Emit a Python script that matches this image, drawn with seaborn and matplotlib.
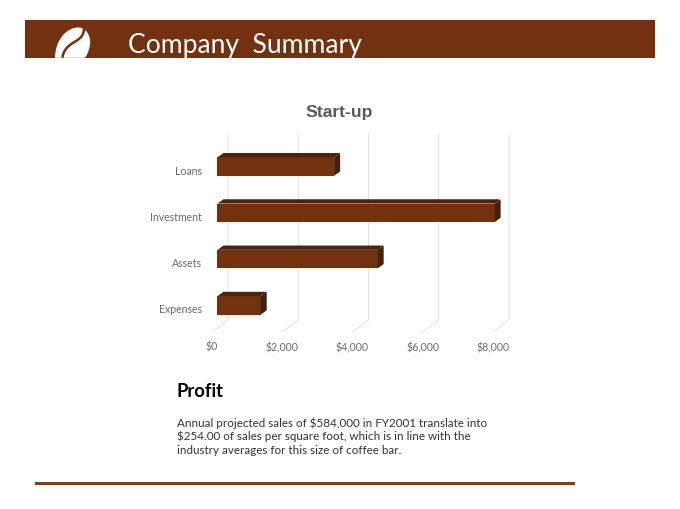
import matplotlib
matplotlib.use("Agg")
import matplotlib.pyplot as plt
import matplotlib.transforms as mtransforms
from matplotlib.patches import Polygon, Rectangle, PathPatch
from matplotlib.path import Path
import pandas as pd
import seaborn as sns

categories = ["Loans", "Investment", "Assets", "Expenses"]
startup_values = [3320, 7890, 4560, 1230]
x_ticks = [0, 2000, 4000, 6000, 8000]
x_tick_labels = ["$0", "$2,000", "$4,000", "$6,000", "$8,000"]

header_text = "Company  Summary"
chart_title = "Start-up"
section_title = "Profit"
body_lines = [
    "Annual projected sales of $584,000 in FY2001 translate into",
    "$254.00 of sales per square foot, which is in line with the",
    "industry averages for this size of coffee bar.",
]

BROWN = "#72320f"
TOP = "#4f2209"
SIDE = "#43200b"
W, H = 680, 510

sns.set_theme(style="white")
plt.rcParams["font.family"] = ["Lato", "DejaVu Sans"]

fig = plt.figure(figsize=(W / 100, H / 100), dpi=100)

# page furniture, in pixel coordinates
page = fig.add_axes([0, 0, 1, 1], zorder=0)
page.set_xlim(0, W)
page.set_ylim(H, 0)
page.axis("off")
page.add_patch(Rectangle((25, 20.8), 630, 38, color=BROWN, lw=0))

# coffee bean logo, cut off by the lower edge of the band
bean = Path(
    [(55, 58.8), (55, 42), (66, 28), (79, 28.5), (88, 29), (91, 40), (90, 46), (89, 52), (87, 56), (85, 58.8), (55, 58.8)],
    [Path.MOVETO] + [Path.CURVE4] * 9 + [Path.CLOSEPOLY],
)
stripe = Path(
    [(84, 29), (84, 40), (76, 41), (70, 46), (66, 49), (63, 53), (62.5, 58.8)],
    [Path.MOVETO] + [Path.CURVE4] * 6,
)
page.add_patch(PathPatch(bean, facecolor="white", lw=0))
page.add_patch(PathPatch(stripe, facecolor="none", edgecolor=BROWN, lw=1.8))

page.text(128, 45, header_text, color="white", fontsize=19.1, va="center", ha="left")
page.text(339.5, 112, chart_title, family="Liberation Sans", weight="bold",
          color="#595959", fontsize=12.6, ha="center", va="center")
page.text(177, 392, section_title, color="black", weight="bold", fontsize=13.2, va="center")
for i, line in enumerate(body_lines):
    page.text(177, 423 + i * 13.7, line, color="#333333", fontsize=8.4, va="center")
page.add_patch(Rectangle((35, 482.6), 540, 3.0, color="#7a3f1c", lw=0))

# chart axes: front plane of the 3D bars
zero_px, per_tick_px = 217.5, 70.25
top_px, bottom_px = 144.4, 329.5
ax = fig.add_axes([zero_px / W, 1 - bottom_px / H, 4 * per_tick_px / W, (bottom_px - top_px) / H],
                  zorder=1)
ax.patch.set_alpha(0)

df = pd.DataFrame({"category": categories, "value": startup_values})
sns.barplot(data=df, x="value", y="category", orient="h", color=BROWN, saturation=1,
            width=0.4, linewidth=0, ax=ax, zorder=3)
ax.set_xlim(0, x_ticks[-1])
ax.set_ylim(3.5, -0.5)
ax.set_xlabel("")
ax.set_ylabel("")
sns.despine(ax=ax, left=True, bottom=True)

ax.set_xticks(x_ticks)
ax.set_xticklabels(x_tick_labels, color="#6b6b6b", fontsize=7.6)
ax.tick_params(axis="x", length=0, pad=9)
ax.tick_params(axis="y", length=0, pad=11, labelsize=7.6, labelcolor="#6b6b6b")
shift_x = mtransforms.ScaledTranslation(-5.5 / 100, 0, fig.dpi_scale_trans)
for label in ax.get_xticklabels():
    label.set_transform(label.get_transform() + shift_x)
shift_y = mtransforms.ScaledTranslation(0, -2.5 / 100, fig.dpi_scale_trans)
for label in ax.get_yticklabels():
    label.set_transform(label.get_transform() + shift_y)

# depth of the 3D look, in data units
px_x = x_ticks[1] / per_tick_px
px_y = 4 / (bottom_px - top_px)
dx, dy = 6 * px_x, 4.3 * px_y

for bar in list(ax.patches):
    x0, x1 = bar.get_x(), bar.get_x() + bar.get_width()
    y0, y1 = bar.get_y(), bar.get_y() + bar.get_height()
    ax.add_patch(Polygon([(x0, y0), (x0 + dx, y0 - dy), (x1 + dx, y0 - dy), (x1, y0)],
                         color=TOP, lw=0, zorder=3))
    ax.add_patch(Polygon([(x1, y0), (x1 + dx, y0 - dy), (x1 + dx, y1 - dy), (x1, y1)],
                         color=SIDE, lw=0, zorder=3, clip_on=False))

# gridlines on the back wall, running out over the floor
wall_top = 135 - top_px
wall_bottom = 321 - top_px
floor = 333 - top_px
for t in x_ticks:
    ax.plot([t + 10.5 * px_x, t + 10.5 * px_x, t - 5.5 * px_x],
            [-0.5 + wall_top * px_y, -0.5 + wall_bottom * px_y, -0.5 + floor * px_y],
            color="#e0e0e0", lw=0.7, zorder=1, clip_on=False)

fig.savefig("out.png", dpi=100)
